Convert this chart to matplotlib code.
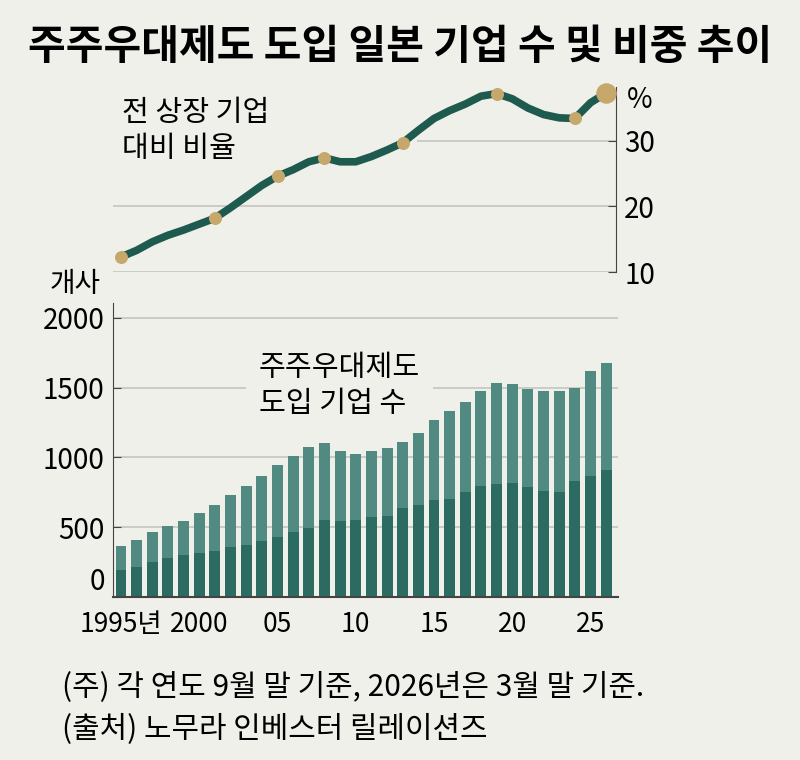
import matplotlib
matplotlib.use('Agg')
import matplotlib.pyplot as plt

KR = ['Noto Sans CJK KR', 'DejaVu Sans']
plt.rcParams['font.family'] = KR

# data
years = list(range(1995, 2027))
total = [364, 407, 464, 510, 543, 603, 658, 730, 792, 869, 945, 1010, 1077, 1101,
         1046, 1027, 1043, 1070, 1110, 1177, 1266, 1335, 1398, 1479, 1534, 1524,
         1491, 1476, 1474, 1496, 1620, 1680]
dark = [196, 218, 254, 280, 304, 313, 328, 361, 376, 404, 433, 467, 491, 550,
        548, 555, 570, 579, 639, 658, 694, 701, 749, 794, 809, 814, 785, 759,
        749, 830, 864, 912]
ratio = [12.3, 13.3, 14.6, 15.6, 16.4, 17.3, 18.2, 19.8, 21.5, 23.2, 24.6, 25.6,
         26.8, 27.4, 26.8, 26.8, 27.6, 28.6, 29.7, 31.6, 33.4, 34.6, 35.6, 36.8,
         37.2, 36.4, 35.0, 34.0, 33.5, 33.4, 35.8, 37.3]
dot_years = [1995, 2001, 2005, 2008, 2013, 2019, 2024]
xtick_years = [1995, 2000, 2005, 2010, 2015, 2020, 2025]
xtick_labels = ['1995년', '2000', '05', '10', '15', '20', '25']

BG = '#f0f0eb'
LIGHT = '#508a80'
DARK = '#2b6b61'
LINE = '#1f5a4f'
GOLD = '#c6a86c'
GRID = '#c4c4c0'
AXC = '#444444'

W, H = 800, 760
fig = plt.figure(figsize=(8, 7.6), dpi=100, facecolor=BG)

def box(l, t, r, b):
    return [l / W, 1 - b / H, (r - l) / W, (b - t) / H]

x0 = 1995 - 8 / 15.65

# ---- top: ratio line
ax1 = fig.add_axes(box(113, 87, 616, 272))
ax1.set_facecolor('none')
ax1.set_xlim(x0, 1995 + (616 - 121) / 15.65)
ax1.set_ylim(10, 38.2)
for s in ['left', 'top', 'bottom']:
    ax1.spines[s].set_visible(False)
ax1.spines['right'].set_color(AXC)
ax1.yaxis.tick_right()
ax1.set_yticks([10, 20, 30])
ax1.tick_params(axis='y', direction='in', length=6, color=AXC, pad=6, labelsize=20)
ax1.set_xticks([])
ax1.axhline(10, color=GRID, lw=1.2, zorder=0)
ax1.axhline(20, color=GRID, lw=1.2, zorder=0)
ax1.hlines(30, 2013.9, ax1.get_xlim()[1], color=GRID, lw=1.2, zorder=0)

ax1.plot(years, ratio, color=LINE, lw=5.5, solid_capstyle='round',
         solid_joinstyle='round', clip_on=False, zorder=3)
dy = [ratio[years.index(y)] for y in dot_years]
ax1.scatter(dot_years, dy, s=70, color=GOLD, zorder=4, clip_on=False)
ax1.scatter([years[-1]], [ratio[-1]], s=190, color=GOLD, zorder=4, clip_on=False)

fig.text(640 / W, 1 - 100 / H, '%', fontsize=20, ha='center', va='center')
fig.text(122 / W, 1 - 131 / H, '전 상장 기업\n대비 비율', fontsize=21,
         ha='left', va='center', linespacing=1.3)

# ---- bottom: bars
ax2 = fig.add_axes(box(113, 303, 618, 597))
ax2.set_facecolor('none')
ax2.set_xlim(x0, 1995 + (618 - 121) / 15.65)
ax2.set_ylim(0, 2107)
ax2.bar(years, total, width=0.7, color=LIGHT, zorder=2)
ax2.bar(years, dark, width=0.7, color=DARK, zorder=2)
for s in ['top', 'right']:
    ax2.spines[s].set_visible(False)
ax2.spines['left'].set_color(AXC)
ax2.spines['bottom'].set_color(AXC)
ax2.spines['bottom'].set_linewidth(1.5)
ax2.set_yticks([0, 500, 1000, 1500, 2000])
ax2.yaxis.grid(True, color=GRID, lw=1.2, zorder=0)
ax2.set_axisbelow(True)
ax2.tick_params(axis='y', direction='in', length=6, color=AXC, pad=6, labelsize=20)
ax2.set_xticks(xtick_years)
ax2.set_xticklabels(xtick_labels)
ax2.tick_params(axis='x', length=0, pad=10, labelsize=19)
# the 0 label sits on top of the baseline, as in the original
ax2.get_yticklabels()[0].set_va('bottom')

fig.text(75 / W, 1 - 284 / H, '개사', fontsize=20, ha='center', va='center')
# label sits over the gridlines but under the bars
ax2.text(259 / W, 1 - 386 / H, '주주우대제도\n도입 기업 수', fontsize=21,
         transform=fig.transFigure, ha='left', va='center', linespacing=1.3,
         zorder=1, bbox=dict(boxstyle='square,pad=0.45', facecolor=BG,
                             edgecolor='none'))

# ---- title + notes
fig.text(400 / W, 1 - 47 / H, '주주우대제도 도입 일본 기업 수 및 비중 추이',
         fontsize=29.5, fontweight='heavy', ha='center', va='center')
fig.text(62 / W, 1 - 688 / H, '(주) 각 연도 9월 말 기준, 2026년은 3월 말 기준.',
         fontsize=21.5, ha='left', va='center')
fig.text(62 / W, 1 - 730 / H, '(출처) 노무라 인베스터 릴레이션즈',
         fontsize=21.5, ha='left', va='center')

fig.savefig('out.png', dpi=100, facecolor=BG)
